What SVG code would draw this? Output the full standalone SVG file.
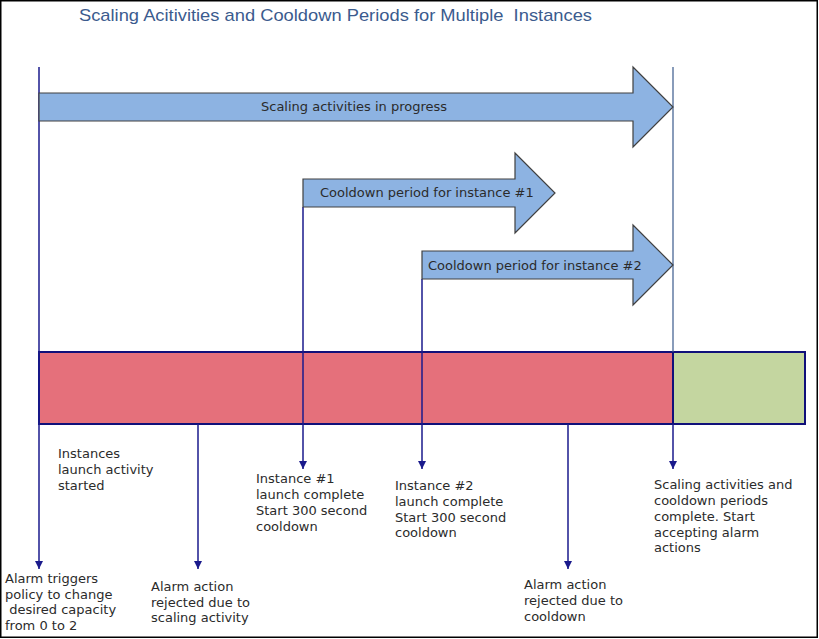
<svg xmlns="http://www.w3.org/2000/svg" width="819" height="639" viewBox="0 0 819 639">
<style>
.t{font-family:"DejaVu Sans",Verdana,sans-serif;font-size:13px;fill:#2b2b2b}
.title{font-family:"Liberation Sans",Arial,sans-serif;font-size:17px;fill:#3b5b8e}
.arr{fill:#8db3e2;stroke:#404040;stroke-width:1.2}
.ln{stroke:#1a1a8c;stroke-width:1.5;fill:none}
.ln2{stroke:#3a5a8c;stroke-width:1.2;fill:none}
</style>
<defs>
<marker id="ah" viewBox="0 0 10 10" refX="10" refY="5" markerWidth="8" markerHeight="8" markerUnits="userSpaceOnUse" orient="auto">
<path d="M0,0 L10,5 L0,10 Z" fill="#1a1a8c"/>
</marker>
</defs>
<rect x="0.75" y="0.75" width="816.5" height="636.5" fill="#fff" stroke="#000" stroke-width="1.5"/>
<text class="title" x="79" y="21" textLength="513" lengthAdjust="spacingAndGlyphs" xml:space="preserve">Scaling Acitivities and Cooldown Periods for Multiple  Instances</text>

<g id="bar">
<rect x="39" y="352" width="634" height="72" fill="#e5707b" stroke="#10107a" stroke-width="2"/>
<rect x="673" y="352" width="132" height="72" fill="#c4d6a0" stroke="#10107a" stroke-width="2"/>
</g>

<g id="connectors">
<line class="ln" x1="39" y1="67" x2="39" y2="569" marker-end="url(#ah)"/>
<line class="ln2" x1="673" y1="67" x2="673" y2="352"/>
<line class="ln" x1="673" y1="424" x2="673" y2="469" marker-end="url(#ah)"/>
<line class="ln" x1="303" y1="207" x2="303" y2="469" marker-end="url(#ah)"/>
<line class="ln" x1="422" y1="279" x2="422" y2="469" marker-end="url(#ah)"/>
<line class="ln" x1="198" y1="424" x2="198" y2="569" marker-end="url(#ah)"/>
<line class="ln" x1="568" y1="424" x2="568" y2="569" marker-end="url(#ah)"/>
</g>

<g id="scaling-arrow">
<path class="arr" d="M39,93 L633,93 L633,67 L673,107 L633,147 L633,121 L39,121 Z"/>
<text class="t" x="261" y="111">Scaling activities in progress</text>
</g>
<g id="cooldown1">
<path class="arr" d="M303,179 L515,179 L515,153 L555,193 L515,233 L515,207 L303,207 Z"/>
<text class="t" x="320" y="197">Cooldown period for instance #1</text>
</g>
<g id="cooldown2">
<path class="arr" d="M422,251 L633,251 L633,225 L673,265 L633,305 L633,279 L422,279 Z"/>
<text class="t" x="428" y="270">Cooldown period for instance #2</text>
</g>

<g id="label-started">
<text class="t" x="58" y="458">Instances</text>
<text class="t" x="58" y="474">launch activity</text>
<text class="t" x="58" y="490">started</text>
</g>
<g id="label-alarm">
<text class="t" x="5" y="583">Alarm triggers</text>
<text class="t" x="5" y="599">policy to change</text>
<text class="t" x="5" y="614" xml:space="preserve"> desired capacity</text>
<text class="t" x="5" y="630">from 0 to 2</text>
</g>
<g id="label-rejected1">
<text class="t" x="151" y="591">Alarm action</text>
<text class="t" x="151" y="607">rejected due to</text>
<text class="t" x="151" y="622">scaling activity</text>
</g>
<g id="label-inst1">
<text class="t" x="256" y="483">Instance #1</text>
<text class="t" x="256" y="499">launch complete</text>
<text class="t" x="256" y="515">Start 300 second</text>
<text class="t" x="256" y="531">cooldown</text>
</g>
<g id="label-inst2">
<text class="t" x="395" y="490">Instance #2</text>
<text class="t" x="395" y="506">launch complete</text>
<text class="t" x="395" y="522">Start 300 second</text>
<text class="t" x="395" y="537">cooldown</text>
</g>
<g id="label-rejected2">
<text class="t" x="524" y="589">Alarm action</text>
<text class="t" x="524" y="605">rejected due to</text>
<text class="t" x="524" y="621">cooldown</text>
</g>
<g id="label-complete">
<text class="t" x="654" y="489">Scaling activities and</text>
<text class="t" x="654" y="505">cooldown periods</text>
<text class="t" x="654" y="521">complete. Start</text>
<text class="t" x="654" y="537">accepting alarm</text>
<text class="t" x="654" y="552">actions</text>
</g>
</svg>
